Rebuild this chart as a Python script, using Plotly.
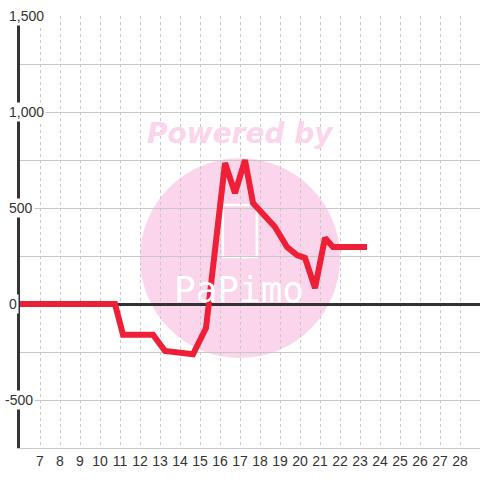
import plotly.graph_objects as go

# series
x_vals = [6, 10.75, 11.15, 12.65, 13.25, 14.65, 15.3, 16.25, 16.75, 17.25, 17.65,
          18.75, 19.35, 19.85, 20.25, 20.75, 21.25, 21.65, 23.35]
y_vals = [0, 0, -160, -160, -245, -262, -125, 734, 578, 750, 526,
          401, 297, 255, 240, 83, 344, 297, 297]

x_ticks = list(range(7, 29))
y_ticks = [1500, 1000, 500, 0, -500]

fig = go.Figure()

fig.add_trace(go.Scatter(
    x=x_vals, y=y_vals, mode='lines',
    line=dict(color='#ee1f36', width=6),
    hoverinfo='skip', showlegend=False
))

# watermark (pink disc + logo)
fig.add_shape(type='circle', xref='paper', yref='paper',
              x0=0.2609, x1=0.6957, y0=0.2083, y1=0.671,
              fillcolor='rgb(250,213,235)', line=dict(width=0), layer='below')
fig.add_shape(type='rect', xref='paper', yref='paper',
              x0=0.441, x1=0.515, y0=0.442, y1=0.5625,
              line=dict(color='white', width=2.5), layer='below')
fig.add_annotation(text='Powered by', xref='paper', yref='paper', x=0.48, y=0.729,
                   xanchor='center', yanchor='middle',
                   showarrow=False, font=dict(family='DejaVu Sans', size=28,
                                              color='rgb(250,213,235)', weight='bold',
                                              style='italic'))
fig.add_annotation(text='PaPimo', xref='paper', yref='paper', x=0.476, y=0.368,
                   xanchor='center', yanchor='middle',
                   showarrow=False, font=dict(family='DejaVu Sans Mono', size=36, color='white'))

# y tick labels sit over the axis with a white box
for v in y_ticks:
    fig.add_annotation(text=f'{v:,}', xref='paper', yref='y',
                       x=(3 - 20) / 460 if v < 0 else (7 - 20) / 460, y=v,
                       xanchor='left', yanchor='middle', showarrow=False,
                       bgcolor='white', borderpad=1,
                       font=dict(family='Liberation Sans', size=14, color='#333'))

fig.update_xaxes(
    range=[6, 29], tickvals=x_ticks, ticktext=[str(t) for t in x_ticks],
    showgrid=True, gridcolor='#c8c8c8', griddash='dot', gridwidth=1,
    showline=True, linecolor='#c8c8c8', linewidth=1,
    ticks='', zeroline=False, automargin=False,
    tickfont=dict(family='Liberation Sans', size=14, color='#333')
)
fig.update_yaxes(
    range=[-750, 1500], dtick=250, showticklabels=False,
    showgrid=True, gridcolor='#c8c8c8', gridwidth=1,
    zeroline=True, zerolinecolor='#333', zerolinewidth=3,
    showline=True, linecolor='#333', linewidth=3, ticks='', automargin=False
)

fig.update_layout(
    width=480, height=480,
    margin=dict(l=20, r=0, t=16, b=32),
    paper_bgcolor='white', plot_bgcolor='white',
    showlegend=False
)

fig.write_html("out.html", config={'displayModeBar': False},
               post_script="document.body.style.margin='0';")
